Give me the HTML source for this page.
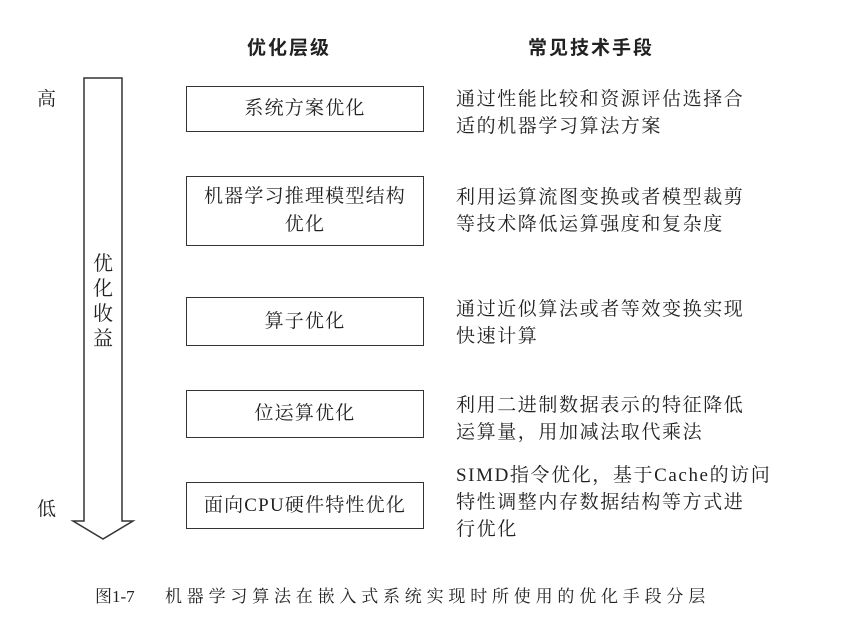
<!DOCTYPE html>
<html><head><meta charset="utf-8"><style>
body{margin:0;width:843px;height:618px;background:#fff;position:relative;overflow:hidden;font-family:"Liberation Serif","Noto Serif CJK SC",serif;color:#222}
.a{position:absolute;white-space:nowrap}
.h{font-family:"Liberation Sans","Noto Sans CJK SC",sans-serif;font-weight:bold;font-size:19px;letter-spacing:2px}
.box{position:absolute;left:186px;width:236px;border:1.5px solid #333;display:flex;align-items:center;justify-content:center;text-align:center;font-size:19px;letter-spacing:1.2px;line-height:28px}
.r{position:absolute;left:456px;font-size:19px;letter-spacing:1.6px;line-height:27px;white-space:nowrap}
</style></head><body>
<div class="a h" style="left:247px;top:33px">优化层级</div>
<div class="a h" style="left:528px;top:33px">常见技术手段</div>
<div class="a" style="left:37px;top:84px;font-size:19px">高</div>
<div class="a" style="left:37px;top:494px;font-size:19px">低</div>
<svg class="a" style="left:0;top:0" width="843" height="618">
<path d="M84 78 L122 78 L122 521 L133 521 L103 539 L73 521 L84 521 Z" fill="#fff" stroke="#333" stroke-width="1.5"/>
</svg>
<div class="a" style="left:93px;top:252px;font-size:20px;line-height:25px;width:21px;white-space:normal">优化收益</div>
<div class="box" style="top:86px;height:44px">系统方案优化</div>
<div class="box" style="top:176px;height:68px">机器学习推理模型结构<br>优化</div>
<div class="box" style="top:297px;height:47px">算子优化</div>
<div class="box" style="top:390px;height:46px">位运算优化</div>
<div class="box" style="top:482px;height:45px">面向CPU硬件特性优化</div>
<div class="r" style="top:86px">通过性能比较和资源评估选择合<br>适的机器学习算法方案</div>
<div class="r" style="top:184px">利用运算流图变换或者模型裁剪<br>等技术降低运算强度和复杂度</div>
<div class="r" style="top:296px">通过近似算法或者等效变换实现<br>快速计算</div>
<div class="r" style="top:392px">利用二进制数据表示的特征降低<br>运算量，用加减法取代乘法</div>
<div class="r" style="top:462px">SIMD指令优化，基于Cache的访问<br>特性调整内存数据结构等方式进<br>行优化</div>
<div class="a" style="left:95px;top:582px;font-size:17px">图1-7</div>
<div class="a" style="left:165px;top:582px;font-size:17px;letter-spacing:4.8px">机器学习算法在嵌入式系统实现时所使用的优化手段分层</div>
</body></html>
